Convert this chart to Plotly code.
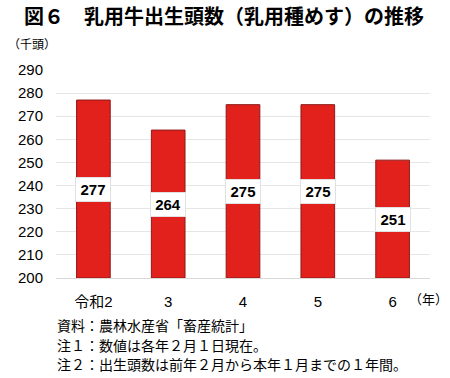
import plotly.graph_objects as go

categories = ["令和2", "3", "4", "5", "6"]
values = [277, 264, 275, 275, 251]
y_ticks = list(range(200, 300, 10))
y_min, y_max = 200, 290

FONT = "Liberation Sans, Noto Sans CJK JP, sans-serif"
JP = "Noto Sans CJK JP, sans-serif"

fig = go.Figure()
fig.add_trace(go.Bar(
    x=list(range(len(categories))), y=[v - y_min for v in values], base=y_min,
    marker=dict(color="#E3211C", line=dict(color="#8B1A1A", width=1)),
    width=0.45, hoverinfo="skip",
))

for i, v in enumerate(values):
    fig.add_annotation(
        x=i, y=(v + y_min) / 2, text=f"<b>{v}</b>", showarrow=False,
        font=dict(family="Liberation Sans, sans-serif", size=15, color="black"),
        bgcolor="white", bordercolor="#e0e0e0", borderwidth=1, borderpad=3,
        width=28,
    )

fig.update_layout(
    width=450, height=378,
    margin=dict(l=56, r=20, t=70, b=100, autoexpand=False),
    paper_bgcolor="white", plot_bgcolor="white",
    showlegend=False,
    font=dict(family=FONT, color="black"),
    xaxis=dict(
        range=[-0.5, len(categories) - 0.5],
        tickvals=list(range(len(categories))), ticktext=categories,
        tickfont=dict(family=FONT, size=15), showgrid=False,
        showline=True, linecolor="#d9d9d9", linewidth=1, ticks="",
        ticklabelstandoff=10, automargin=False,
    ),
    yaxis=dict(
        range=[y_min, y_max], tickvals=y_ticks,
        tickfont=dict(family=FONT, size=15),
        showgrid=True, gridcolor="#e6e6e6", gridwidth=1,
        zeroline=False, ticks="", showline=False,
        ticklabelstandoff=12, automargin=False,
    ),
)

def py(px):
    return (278 - px) / 208

def pxx(px):
    return (px - 56) / 374

fig.add_annotation(xref="paper", yref="paper", x=pxx(22), y=py(15), xanchor="left", yanchor="middle",
                   text="<b>図６　乳用牛出生頭数（乳用種めす）の推移</b>", showarrow=False,
                   font=dict(family=JP, size=20))
fig.add_annotation(xref="paper", yref="paper", x=pxx(6), y=py(43), xanchor="left", yanchor="middle",
                   text="（千頭）", showarrow=False, font=dict(family=JP, size=12))
fig.add_annotation(xref="paper", yref="paper", x=pxx(428), y=py(298), xanchor="center", yanchor="middle",
                   text="（年）", showarrow=False, font=dict(family=JP, size=13))

notes = ["資料：農林水産省「畜産統計」", "注１：数値は各年２月１日現在。",
         "注２：出生頭数は前年２月から本年１月までの１年間。"]
for n, ypx in zip(notes, [325, 345, 364]):
    fig.add_annotation(xref="paper", yref="paper", x=pxx(55), y=py(ypx),
                       xanchor="left", yanchor="middle", text=n, showarrow=False,
                       font=dict(family=JP, size=14))

fig.write_html("out.html", config={"displayModeBar": False},
               post_script="document.body.style.margin='0';document.body.style.padding='0';")
